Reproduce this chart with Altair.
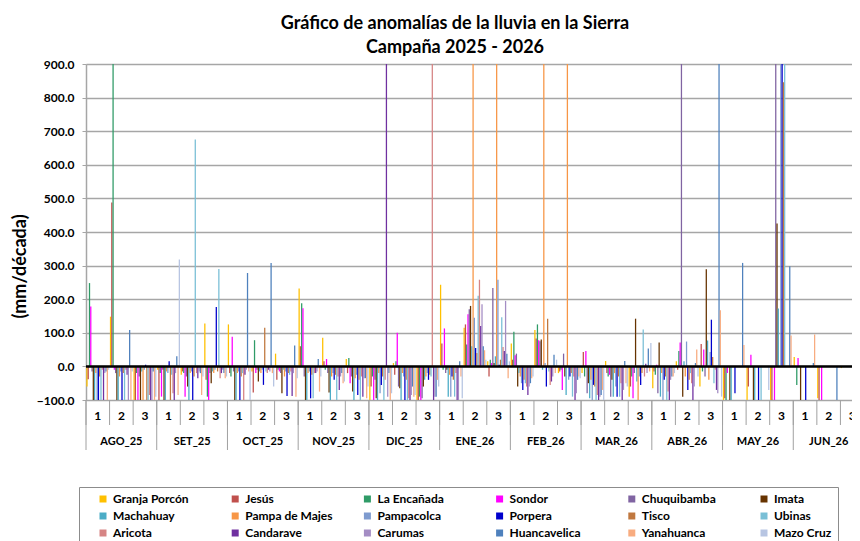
import altair as alt
import pandas as pd

months = ["AGO_25", "SET_25", "OCT_25", "NOV_25", "DIC_25", "ENE_26",
          "FEB_26", "MAR_26", "ABR_26", "MAY_26", "JUN_26"]
decades = ["1", "2", "3"]

stations = ["Granja Porcón", "Jesús", "La Encañada", "Sondor", "Chuquibamba", "Imata",
            "Machahuay", "Pampa de Majes", "Pampacolca", "Porpera", "Tisco", "Ubinas",
            "Aricota", "Candarave", "Carumas", "Huancavelica", "Yanahuanca", "Mazo Cruz"]
colors = ["#FFC000", "#C0504D", "#2F9B67", "#FF00FF", "#8064A2", "#663300",
          "#4BACC6", "#F79646", "#7E9BCF", "#0000CC", "#C0783F", "#79BFD6",
          "#D68585", "#7030A0", "#A48DC4", "#4F81BD", "#F8AC80", "#B7C5E2"]

# anomalies (mm/década), one value per decade AGO_25-1 ... JUN_26-3
granja_porcon = [-60, 148, -100, -10, -25, 128, 125, -15, 38, 232, 85, 22, -100, 10, -100, 243, 115,
                 15, 68, 108, -20, -20, 16, -90, -65, 15, -60, -100, -100, -100, 28, -95, -5]
jesus = [-38, 488, -100, -100, -15, -40, -20, -78, -40, 60, 15, -20, -60, -25, -100, 68, 125,
         -30, 20, 83, -15, 43, -20, -60, -15, -10, 67, -95, -60, -100, 0, -100, 0]
la_encanada = [248, 1000, -20, -20, -20, -90, -30, 78, -10, 188, -10, 25, -30, 15, -90, -10, 65,
               20, 103, 125, -10, -30, -30, -30, -25, 46, -15, -100, 0, 0, -55, 0, 0]
sondor = [178, -10, -100, -90, -90, -100, 88, -20, -15, 173, 22, -50, -100, 100, -100, 113, 155,
          10, 33, 78, -70, 46, -25, -95, 5, 71, 50, -20, 35, -100, 25, -100, 0]
chuquibamba = [-15, -20, -30, -10, -30, -20, -15, -10, -20, -30, -20, -30, -40, -60, -95, -20, 170,
               233, 38, 75, 38, -80, -90, -20, -80, 1000, -30, 0, 0, 1000, 0, 0, 0]
imata = [-100, -100, -100, -100, -60, -50, -100, -45, -80, -100, -78, -75, -95, -65, -60, -10, 180,
         10, -60, 80, -30, -50, -40, 142, 71, -90, 289, -100, -100, 425, -100, 0, 0]
machahuay = [-100, -100, -15, -100, -100, -15, -100, -15, -10, -100, -100, -100, -100, -100, -40, -90, 60,
             30, -20, -10, -85, -95, -90, -45, -90, 15, 77, -100, -100, 172, 0, 0, 0]
pampa_de_majes = [-20, -30, -100, -15, -20, -20, -20, -20, -30, -20, -30, -35, -20, -20, -30, -25, 1000,
                  1000, -30, 1000, 1000, -40, -20, -100, -20, -30, -40, 0, 0, 0, 0, 0, 0]
pampacolca = [-100, -15, -10, -20, -15, -10, -15, -10, -15, -15, -20, -25, -80, -30, -20, -90, 145,
              258, -50, 10, -40, -100, -60, -30, -100, 74, 43, 0, 0, 1000, 0, 0, 0]
porpera = [-100, -100, 5, 15, -100, 177, -100, -55, -88, -95, -40, -85, -55, -100, -40, -30, 55,
           5, -70, -60, -30, -55, -90, -55, -40, -70, 139, -80, -100, 1000, -100, 0, 0]
tisco = [-30, -20, -100, -100, -30, -15, -30, 115, -20, -25, -25, -40, -30, -40, -25, -40, 40,
         20, -40, 142, -20, -60, -30, -20, -30, -40, 28, 0, 0, 846, 0, 0, 0]
ubinas = [-100, -100, -100, -25, 675, 290, -20, -15, -25, -95, -100, -100, -100, -100, -30, -90, 210,
          146, -50, -15, -90, -100, -90, 110, -100, -20, -50, 0, -100, 1000, 0, 0, 0]
aricota = [-10, -10, -85, -80, -20, -35, -100, -20, -15, -20, -30, -30, -40, -95, 1000, -20, 258,
           58, -60, -55, -30, -85, -50, -30, -75, -50, -10, 0, 0, 0, 0, 0, 0]
candarave = [-100, -25, -100, -100, -35, -20, -25, -10, -88, -20, -70, -90, 1000, -100, -100, -100, 120,
             46, -85, -45, -100, -100, -100, 8, -100, -100, -70, 0, 0, 0, 0, 0, 0]
carumas = [-20, -100, -100, -20, -15, -10, -10, -15, -20, -15, -30, -35, -90, -85, -90, -100, 185,
           195, -60, -30, -80, -90, -70, -20, -40, -60, -80, 0, 0, 0, 0, 0, 0]
huancavelica = [-15, 108, -15, 30, -20, -20, 278, 308, 62, 22, -20, -35, -20, -60, -90, 15, 60,
                38, -50, 35, -40, -85, 16, 53, -30, 10, 1000, 308, 0, 298, 10, -100, 0]
yanahuanca = [-100, -100, -100, -85, -85, -35, -15, -20, -90, -75, -50, -95, -100, -90, -40, -30, 48,
              -35, -35, -20, -30, -70, -50, -15, -30, 50, 167, 64, 0, 92, 95, 0, 0]
mazo_cruz = [-10, -15, -90, 318, -30, -30, -100, -60, -35, -30, -45, -60, -80, -85, -60, -95, 20,
             15, -30, 20, -35, -100, -60, 70, -20, -30, -90, 0, -70, 0, 0, 0, 0]

series = [granja_porcon, jesus, la_encanada, sondor, chuquibamba, imata, machahuay,
          pampa_de_majes, pampacolca, porpera, tisco, ubinas, aricota, candarave,
          carumas, huancavelica, yanahuanca, mazo_cruz]

keys, key_month, key_dec = [], [], []
for m in months:
    for d in decades:
        keys.append(f"{m}-{d}")
        key_month.append(m)
        key_dec.append(d)

rows = []
for name, vals in zip(stations, series):
    assert len(vals) == len(keys), name
    for k, v in zip(keys, vals):
        rows.append({"key": k, "station": name, "value": v})
df = pd.DataFrame(rows)
df_keys = pd.DataFrame({"key": keys, "month": key_month, "dec": key_dec})

FONT = "Lato"
x_scale = alt.Scale(domain=keys, paddingInner=0, paddingOuter=0)
y_scale = alt.Scale(domain=[-100, 900], nice=False, zero=False)
y_axis = alt.Axis(values=list(range(-100, 1000, 100)), format=".1f",
                  title="(mm/década)", titleFont=FONT, titleFontSize=18,
                  titleFontWeight="bold", titleColor="black",
                  titleAngle=270, titleX=-66, titleY=202, titleAlign="center",
                  titleBaseline="middle",
                  labelFont=FONT, labelFontSize=12, labelFontWeight="bold",
                  labelColor="black", labelPadding=8,
                  grid=True, gridColor="#A6A6A6", gridWidth=1.5,
                  domainColor="#A6A6A6", domainWidth=1.5,
                  tickColor="#A6A6A6", tickSize=4)

bars = alt.Chart(df).mark_bar(clip=True).encode(
    x=alt.X("key:N", sort=keys, scale=x_scale, axis=None),
    xOffset=alt.XOffset("station:N", sort=stations,
                        scale=alt.Scale(domain=stations, paddingInner=0, paddingOuter=0.25)),
    y=alt.Y("value:Q", scale=y_scale, axis=y_axis),
    color=alt.Color("station:N", sort=stations,
                    scale=alt.Scale(domain=stations, range=colors),
                    legend=alt.Legend(title=None, orient="none", legendX=-7, legendY=423,
                                      direction="horizontal",
                                      columns=6, gridAlign="all", columnPadding=16.2,
                                      rowPadding=5, padding=6, symbolOffset=12,
                                      symbolType="square", symbolSize=49,
                                      symbolStrokeWidth=0, labelOffset=4,
                                      labelFont=FONT, labelFontSize=12,
                                      labelFontWeight="bold", labelColor="black",
                                      strokeColor="#8C8C8C", labelLimit=200)),
)

zero_line = alt.Chart(pd.DataFrame({"value": [0]})).mark_rule(
    color="black", strokeWidth=2.5).encode(y=alt.Y("value:Q", scale=y_scale, axis=y_axis))

dec_sep = alt.Chart(df_keys).mark_rule(color="#A0A0A0", strokeWidth=1).encode(
    x=alt.X("key:N", sort=keys, scale=x_scale, axis=None, bandPosition=0),
    y=alt.value(336), y2=alt.value(361))

month_sep = alt.Chart(df_keys).transform_filter(alt.datum.dec == "1").mark_rule(
    color="#A0A0A0", strokeWidth=1).encode(
    x=alt.X("key:N", sort=keys, scale=x_scale, axis=None, bandPosition=0),
    y=alt.value(336), y2=alt.value(386))

dec_labels = alt.Chart(df_keys).mark_text(
    font=FONT, fontSize=12, fontWeight="bold", color="black", baseline="middle").encode(
    x=alt.X("key:N", sort=keys, scale=x_scale, axis=None),
    y=alt.value(352), text="dec:N")

month_labels = alt.Chart(df_keys).transform_filter(alt.datum.dec == "2").mark_text(
    font=FONT, fontSize=11, fontWeight="bold", color="black", baseline="middle").encode(
    x=alt.X("key:N", sort=keys, scale=x_scale, axis=None),
    y=alt.value(377.5), text="month:N")

chart = alt.layer(bars, zero_line, dec_sep, month_sep, dec_labels, month_labels).properties(
    width=778, height=336,
    autosize=alt.AutoSizeParams(type="none"),
    padding={"left": 78, "top": 56, "right": -12, "bottom": 150},
    title=alt.TitleParams(
        text=["Gráfico de anomalías de la lluvia en la Sierra", "Campaña 2025 - 2026"],
        font=FONT, fontSize=18, fontWeight="bold", color="black",
        anchor="middle", dx=-20, offset=1, lineHeight=24),
).configure_view(stroke=None).configure(background="white")

chart.save("out.html", embed_options={"renderer": "svg", "actions": False})
